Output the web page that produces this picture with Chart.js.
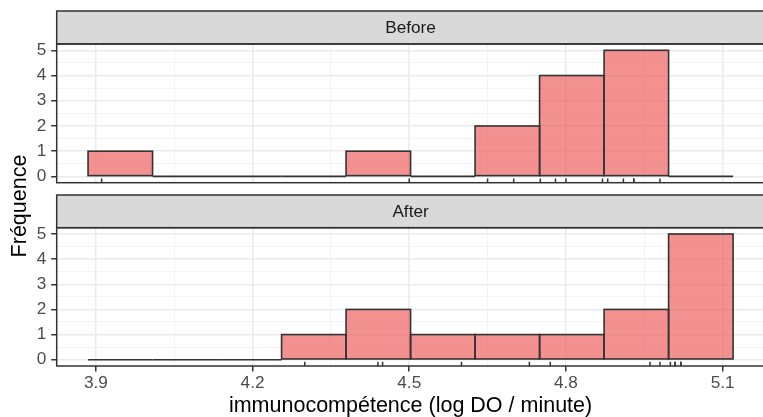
<!DOCTYPE html>
<html>
<head>
<meta charset="utf-8">
<script src="https://cdn.jsdelivr.net/npm/chart.js@4/dist/chart.umd.min.js"></script>
<style>
  html, body { margin: 0; padding: 0; background: #fff; overflow: hidden; }
  #wrap { position: relative; width: 763px; height: 417px; overflow: hidden; }
  #wrap canvas { position: absolute; left: 0; top: 0; }
</style>
</head>
<body>
<div id="wrap">
  <canvas id="beforeChart" width="768" height="417"></canvas>
  <canvas id="afterChart" width="768" height="417"></canvas>
</div>
<script>
// 10 bins shared by both facets (centres, log DO / minute)
const binCenters = [3.9468, 4.0703, 4.1938, 4.3173, 4.4408, 4.5643, 4.6878, 4.8113, 4.9348, 5.0583];
const beforeCounts = [1, 0, 0, 0, 1, 0, 2, 4, 5, 0];
const afterCounts = [0, 0, 0, 1, 2, 1, 1, 1, 2, 5];

// raw observations, shown as a rug under each histogram
const beforeValues = [3.911, 4.500, 4.650, 4.700, 4.751, 4.780, 4.800, 4.870, 4.880, 4.910, 4.930, 4.930, 4.980];
const afterValues = [4.300, 4.440, 4.449, 4.600, 4.730, 4.770, 4.961, 4.980, 5.000, 5.009, 5.009, 5.020, 5.020];

const xTicks = [3.9, 4.2, 4.5, 4.8, 5.1];
const yTicks = [0, 1, 2, 3, 4, 5];
const xRange = [3.825, 5.18];
const yRange = [-0.25, 5.25];

const FONT = "'Liberation Sans', Arial, Helvetica, sans-serif";
const INK = "#333333";

// major breaks plus a minor line halfway between each pair
function withMinors(majors) {
  const out = [];
  majors.forEach((v, i) => {
    out.push({ value: v, isMinor: false });
    if (i < majors.length - 1) out.push({ value: (v + majors[i + 1]) / 2, isMinor: true });
  });
  return out;
}

function gridStyle(drawTicks) {
  return {
    drawTicks,
    tickLength: 5.5,
    offset: false,
    color: c => (c.tick && c.tick.isMinor ? "#F0F0F0" : "#EBEBEB"),
    lineWidth: c => (c.tick && c.tick.isMinor ? 0.8 : 1.5),
    tickColor: c => (c.tick && c.tick.isMinor ? "rgba(0,0,0,0)" : INK),
    tickWidth: 1.5
  };
}

const tickFont = { family: FONT, size: 17.2 };

// strip label, panel border, bar outlines and the shared y title
const facetPlugin = {
  id: "facet",
  afterDatasetsDraw(chart) {
    const ctx = chart.ctx;
    ctx.save();
    ctx.strokeStyle = INK;
    ctx.lineWidth = 1.6;
    chart.getDatasetMeta(0).data.forEach(bar => {
      const { x, y, base, width } = bar.getProps(["x", "y", "base", "width"], true);
      ctx.strokeRect(x - width / 2, Math.min(y, base), width, Math.abs(base - y));
    });
    ctx.restore();
  },
  afterDraw(chart, args, opts) {
    const { ctx, chartArea: a } = chart;
    const w = a.right - a.left;
    ctx.save();
    ctx.fillStyle = "#D9D9D9";
    ctx.fillRect(a.left, a.top - opts.stripHeight, w, opts.stripHeight);
    ctx.strokeStyle = INK;
    ctx.lineWidth = 1.5;
    ctx.strokeRect(a.left, a.top - opts.stripHeight, w, opts.stripHeight);
    ctx.strokeRect(a.left, a.top, w, a.bottom - a.top);

    ctx.fillStyle = "#1A1A1A";
    ctx.font = `17.2px ${FONT}`;
    ctx.textAlign = "center";
    ctx.textBaseline = "middle";
    ctx.fillText(opts.label, a.left + w / 2, a.top - opts.stripHeight / 2 + 1);

    if (opts.yTitle) {
      ctx.translate(20.5, 206);
      ctx.rotate(-Math.PI / 2);
      ctx.fillStyle = "#000";
      ctx.font = `21.5px ${FONT}`;
      ctx.fillText(opts.yTitle, 0, 0);
    }
    ctx.restore();
  }
};

function makePanel(canvasId, label, counts, rugValues, isBottom) {
  const rugY = yRange[0] + (yRange[1] - yRange[0]) * 0.015;
  return new Chart(document.getElementById(canvasId), {
    type: "bar",
    data: {
      datasets: [
        {
          type: "bar",
          data: binCenters.map((x, i) => ({ x, y: counts[i] })),
          backgroundColor: "rgba(238,99,99,0.7)",
          borderWidth: 0,
          inflateAmount: 0,
          barPercentage: 1,
          categoryPercentage: 1,
          order: 2
        },
        {
          type: "scatter",
          data: rugValues.map(x => ({ x, y: rugY })),
          pointStyle: "line",
          pointRotation: 90,
          pointRadius: 2.1,
          pointHoverRadius: 2.1,
          pointBorderColor: INK,
          pointBorderWidth: 1.5,
          order: 1
        }
      ]
    },
    options: {
      responsive: false,
      animation: false,
      events: [],
      devicePixelRatio: 1,
      layout: {
        padding: isBottom
          ? { top: 227.7, bottom: 0, left: 0, right: 0 }
          : { top: 44, bottom: 417 - 182.7, left: 0, right: 0 }
      },
      plugins: {
        legend: { display: false },
        tooltip: { enabled: false },
        facet: {
          label,
          stripHeight: isBottom ? 32.7 : 33,
          yTitle: isBottom ? "Fréquence" : null
        }
      },
      scales: {
        x: {
          type: "linear",
          min: xRange[0],
          max: xRange[1],
          bounds: "data",
          offset: false,
          afterBuildTicks: s => { s.ticks = withMinors(xTicks); },
          afterFit: s => { s.height = isBottom ? 51 : 0; },
          ticks: {
            display: isBottom,
            autoSkip: false,
            maxRotation: 0,
            padding: 1,
            color: "#4D4D4D",
            font: tickFont,
            callback: (v, i, t) => (t[i].isMinor ? "" : v.toFixed(1))
          },
          grid: gridStyle(isBottom),
          border: { display: false },
          title: {
            display: isBottom,
            text: "immunocompétence (log DO / minute)",
            color: "#000",
            font: { family: FONT, size: 21.5, lineHeight: 1 },
            padding: { top: 0, bottom: 0 }
          }
        },
        y: {
          type: "linear",
          min: yRange[0],
          max: yRange[1],
          bounds: "data",
          afterBuildTicks: s => { s.ticks = withMinors(yTicks); },
          afterFit: s => { s.width = 56.7; },
          ticks: {
            autoSkip: false,
            padding: 5,
            color: "#4D4D4D",
            font: tickFont,
            callback: (v, i, t) => (t[i].isMinor ? "" : String(v))
          },
          grid: gridStyle(true),
          border: { display: false }
        }
      }
    },
    plugins: [facetPlugin]
  });
}

makePanel("beforeChart", "Before", beforeCounts, beforeValues, false);
makePanel("afterChart", "After", afterCounts, afterValues, true);
</script>
</body>
</html>
